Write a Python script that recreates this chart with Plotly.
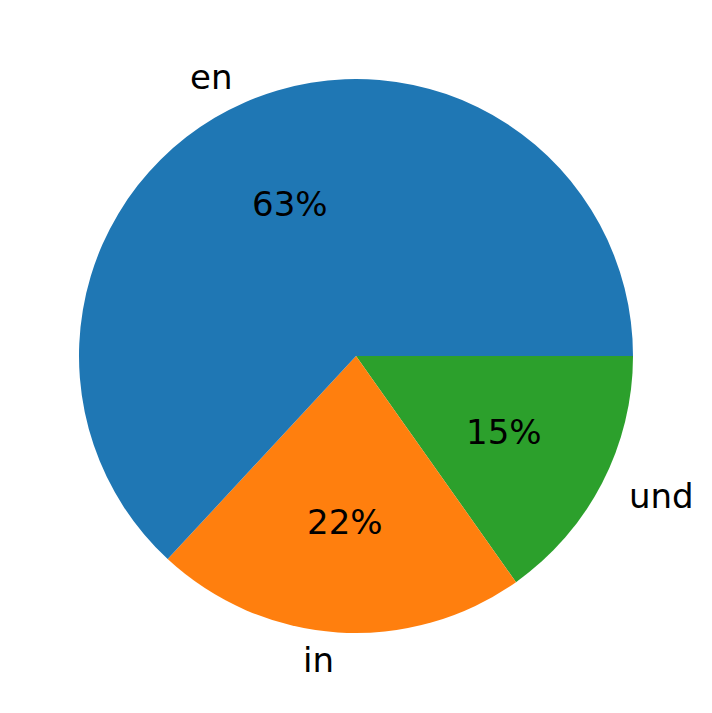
import math
import plotly.graph_objects as go

labels = ["en", "in", "und"]
values = [63.1, 21.7, 15.2]
colors = ["#1f77b4", "#ff7f0e", "#2ca02c"]

W, H = 712, 713
OFF = 8  # default page body margin
cx, cy, R = 356 - OFF, 356 - OFF, 277  # pie centre and radius in px (figure coords)
font_size = 34
label_dist = 1.1
pct_dist = 0.6

# matplotlib draws counterclockwise from 3 o'clock; plotly equivalent:
# reversed order, clockwise, starting at 3 o'clock
fig = go.Figure(go.Pie(
    labels=labels[::-1],
    values=values[::-1],
    marker=dict(colors=colors[::-1], line=dict(width=0)),
    sort=False,
    direction="clockwise",
    rotation=90,
    textinfo="none",
    hoverinfo="label+percent",
    showlegend=False,
    domain=dict(x=[(cx - R) / W, (cx + R) / W], y=[1 - (cy + R) / H, 1 - (cy - R) / H]),
))

total = sum(values)
start = 0.0
annotations = []
for lab, v in zip(labels, values):
    frac = v / total
    mid = (start + frac / 2) * 2 * math.pi
    start += frac
    c, s = math.cos(mid), math.sin(mid)
    # outer label
    lx = cx + label_dist * R * c
    ly = cy - label_dist * R * s
    annotations.append(dict(
        x=lx / W, y=1 - ly / H, xref="paper", yref="paper",
        text=lab, showarrow=False,
        xanchor="left" if c > 0 else "right", yanchor="middle",
        font=dict(size=font_size, color="black", family="DejaVu Sans"),
    ))
    # percentage label
    px = cx + pct_dist * R * c
    py = cy - pct_dist * R * s
    annotations.append(dict(
        x=px / W, y=1 - py / H, xref="paper", yref="paper",
        text=f"{round(frac * 100):.0f}%", showarrow=False,
        xanchor="center", yanchor="middle",
        font=dict(size=font_size, color="black", family="DejaVu Sans"),
    ))

fig.update_layout(
    width=W, height=H,
    margin=dict(l=0, r=0, t=0, b=0),
    paper_bgcolor="white",
    plot_bgcolor="white",
    annotations=annotations,
)

fig.write_html("out.html")
